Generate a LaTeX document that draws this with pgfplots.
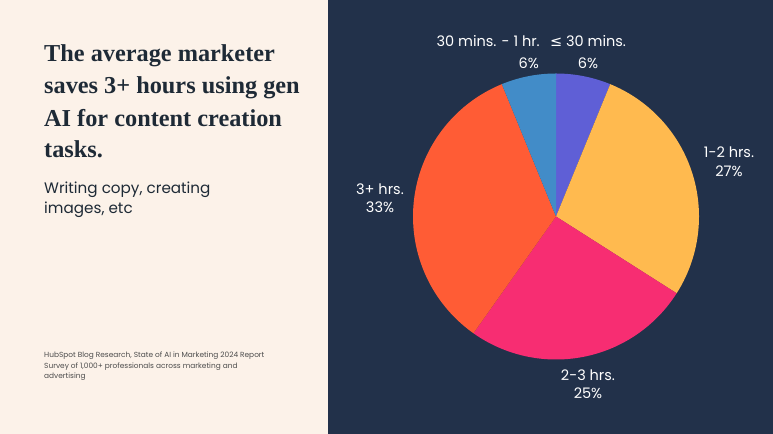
\documentclass[border=0pt]{standalone}
\usepackage{pgfplots}
\usepackage{pgfplotstable}
\pgfplotsset{compat=1.18}
\usepackage{fontspec}
\setmainfont{Poppins}
\newfontfamily\titlefont{Liberation Serif}
\newfontfamily\symfont{DejaVu Sans}

\definecolor{cream}{HTML}{FCF2E9}
\definecolor{navy}{HTML}{22314A}
\definecolor{ink}{HTML}{1E2A36}
\definecolor{slice0}{HTML}{5F5FD6}
\definecolor{slice1}{HTML}{FFBA4F}
\definecolor{slice2}{HTML}{F72D72}
\definecolor{slice3}{HTML}{FF5C35}
\definecolor{slice4}{HTML}{428CC8}

% share of time saved, clockwise from the top
\pgfplotstableread{
label pct
le30 6
1to2 27
2to3 25
3plus 33
30to60 6
}\piedata

\begin{document}
\begin{tikzpicture}
\fill[cream] (0,0) rectangle (328bp,434bp);
\fill[navy] (328bp,0) rectangle (773bp,434bp);

\begin{axis}[
  at={(0,0)}, anchor=south west,
  scale only axis, width=773bp, height=434bp,
  xmin=0, xmax=773, ymin=0, ymax=434,
  hide axis, clip=false,
]
\pgfmathsetmacro{\piesum}{97}
\gdef\cum{0}
\pgfplotsinvokeforeach{0,...,4}{
  \pgfplotstablegetelem{#1}{pct}\of\piedata
  \pgfmathsetmacro{\aS}{90-\cum/\piesum*360}
  \pgfmathsetmacro{\aE}{90-(\cum+\pgfplotsretval)/\piesum*360}
  \pgfmathsetmacro{\newcum}{\cum+\pgfplotsretval}
  \global\let\cum\newcum
  \edef\doslice{\noexpand\addplot[draw=none, fill=slice#1, domain=\aE:\aS, samples=90] ({556+143*cos(x)},{217.5+143*sin(x)}) -- (556,217.5) -- cycle;}
  \doslice
}

% left panel text
\begin{scope}[every node/.style={anchor=base west, inner sep=0pt, text=ink}]
\node[font=\titlefont\bfseries\fontsize{24.3bp}{24bp}\selectfont] at (44,372) {The average marketer};
\node[font=\titlefont\bfseries\fontsize{24.3bp}{24bp}\selectfont] at (44,340) {saves 3+ hours using gen};
\node[font=\titlefont\bfseries\fontsize{24.3bp}{24bp}\selectfont] at (44,307) {AI for content creation};
\node[font=\titlefont\bfseries\fontsize{24.3bp}{24bp}\selectfont] at (44,276) {tasks.};
\node[font=\fontsize{15.2bp}{16bp}\selectfont] at (44,240) {Writing copy, creating};
\node[font=\fontsize{15.2bp}{16bp}\selectfont] at (44,220.5) {images, etc};
\node[font=\fontsize{7.4bp}{8bp}\selectfont, text=black!70] at (44,76) {HubSpot Blog Research, State of AI in Marketing 2024 Report};
\node[font=\fontsize{7.4bp}{8bp}\selectfont, text=black!70] at (44,65.7) {Survey of 1,000+ professionals across marketing and};
\node[font=\fontsize{7.4bp}{8bp}\selectfont, text=black!70] at (44,55.7) {advertising};
\end{scope}

% slice labels
\begin{scope}[every node/.style={inner sep=0pt, text=white, font=\fontsize{14.5bp}{14bp}\selectfont}]
\node[anchor=base east] at (540,387) {30 mins. - 1 hr.};
\node[anchor=base east] at (539,365) {6\%};
\node[anchor=base] at (588,387) {{\symfont ≤} 30 mins.};
\node[anchor=base] at (588,365) {6\%};
\node[anchor=base] at (729,276) {1-2 hrs.};
\node[anchor=base] at (729,257) {27\%};
\node[anchor=base] at (588,53) {2-3 hrs.};
\node[anchor=base] at (588,35) {25\%};
\node[anchor=base] at (380,239) {3+ hrs.};
\node[anchor=base] at (380,221.5) {33\%};
\end{scope}
\end{axis}

\pgfresetboundingbox
\useasboundingbox (0,0) rectangle (773bp,434bp);
\end{tikzpicture}
\end{document}
